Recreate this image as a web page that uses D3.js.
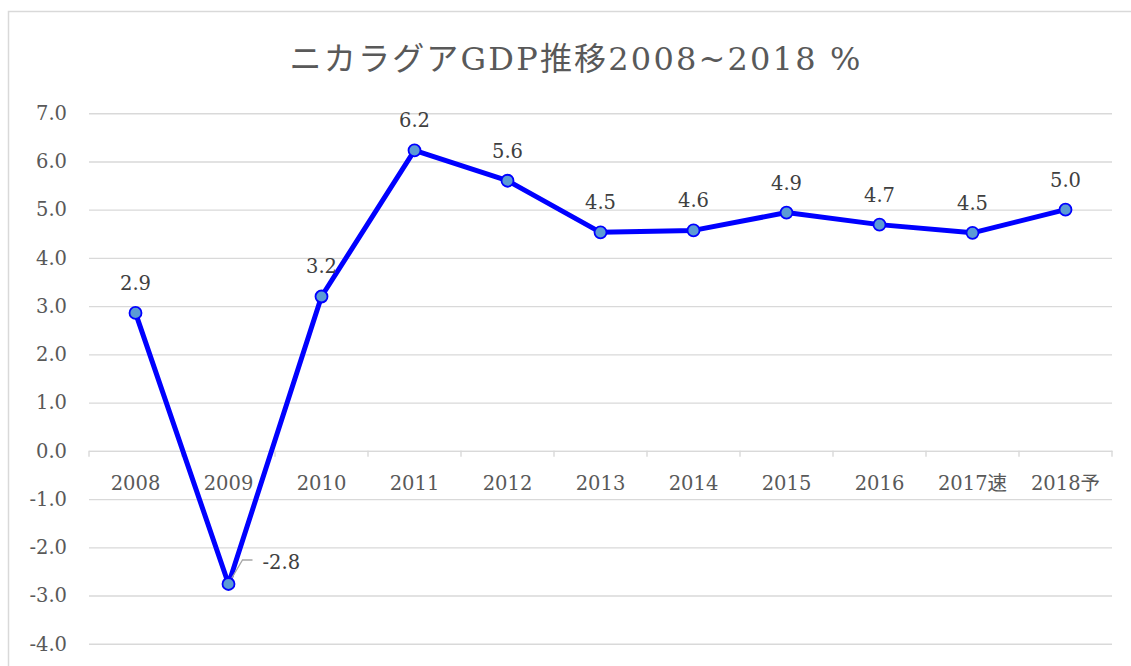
<!DOCTYPE html>
<html>
<head>
<meta charset="utf-8">
<script src="https://cdn.jsdelivr.net/npm/d3@7"></script>
<style>
  html, body { margin: 0; padding: 0; background: #fff; }
  svg { display: block; }
  text { font-family: "DejaVu Serif", "Noto Sans CJK JP", serif; }
</style>
</head>
<body>
<svg id="chart" width="1131" height="666"></svg>
<script>
// ニカラグア GDP 成長率 (%)
const years = ['2008', '2009', '2010', '2011', '2012', '2013', '2014', '2015', '2016', '2017速', '2018予'];
const growth = [2.86, -2.76, 3.2, 6.23, 5.6, 4.53, 4.57, 4.94, 4.69, 4.52, 5.0];
const yTicks = [7, 6, 5, 4, 3, 2, 1, 0, -1, -2, -3, -4];
const title = 'ニカラグアGDP推移2008~2018 %';

const W = 1131, H = 666;
const left = 89, right = 1112;

const svg = d3.select('#chart');

// chart frame
svg.append('rect')
  .attr('x', 8.5).attr('y', 11.5)
  .attr('width', 1140).attr('height', 700)
  .attr('fill', '#fff')
  .attr('stroke', '#d9d9d9')
  .attr('stroke-width', 1.5);

const x = d3.scaleBand().domain(years).range([left, right]);
const y = d3.scaleLinear().domain([-4, 7]).range([643.8, 113.2]);

// title
svg.append('text')
  .attr('x', 575).attr('y', 70)
  .attr('text-anchor', 'middle')
  .attr('font-size', 32)
  .attr('textLength', 571)
  .attr('lengthAdjust', 'spacing')
  .attr('fill', '#595959')
  .text(title);

// gridlines + y labels
const yAxis = d3.axisLeft(y).tickValues(yTicks).tickSize(-(right - left)).tickFormat(d3.format('.1f'));
const gy = svg.append('g').attr('transform', `translate(${left},0)`).call(yAxis);
gy.select('.domain').remove();
gy.selectAll('.tick line').attr('stroke', '#d9d9d9').attr('stroke-width', 1.4);
gy.selectAll('.tick text')
  .attr('x', -22)
  .attr('font-size', 19.5)
  .attr('fill', '#595959')
  .attr('font-family', '"DejaVu Serif", serif')
  .text((d) => d3.format('.1f')(d).replace('−', '-'));

// category axis on zero line
const xAxis = d3.axisBottom(x).tickSize(0).tickPadding(25);
const gx = svg.append('g').attr('transform', `translate(0,${y(0)})`).call(xAxis);
gx.select('.domain').attr('stroke', '#d9d9d9').attr('stroke-width', 1.4);
gx.selectAll('.tick text')
  .attr('font-size', 19.5)
  .attr('fill', '#595959');
// boundary ticks
const bounds = years.map((d) => x(d)).concat([right]);
gx.selectAll('line.bnd')
  .data(bounds)
  .join('line')
  .attr('class', 'bnd')
  .attr('x1', (d) => d).attr('x2', (d) => d)
  .attr('y1', 0).attr('y2', 6)
  .attr('stroke', '#d9d9d9').attr('stroke-width', 1.4);

const cx = (d, i) => x(years[i]) + x.bandwidth() / 2;

// line
const line = d3.line().x((d, i) => cx(d, i)).y((d) => y(d));
svg.append('path')
  .datum(growth)
  .attr('d', line)
  .attr('fill', 'none')
  .attr('stroke', '#0000ff')
  .attr('stroke-width', 5)
  .attr('stroke-linejoin', 'round');

// leader line for negative label
const iNeg = growth.findIndex((v) => v < 0);
svg.append('polyline')
  .attr('points', [
    [cx(0, iNeg) + 1, y(growth[iNeg]) - 2],
    [cx(0, iNeg) + 14, y(growth[iNeg]) - 24],
    [cx(0, iNeg) + 24, y(growth[iNeg]) - 24],
  ].map((p) => p.join(',')).join(' '))
  .attr('fill', 'none')
  .attr('stroke', '#a6a6a6')
  .attr('stroke-width', 1.3);

// markers
svg.selectAll('circle.pt')
  .data(growth)
  .join('circle')
  .attr('class', 'pt')
  .attr('cx', (d, i) => cx(d, i))
  .attr('cy', (d) => y(d))
  .attr('r', 6)
  .attr('fill', '#5b9bd5')
  .attr('stroke', '#0000ff')
  .attr('stroke-width', 1.8);

// data labels
svg.selectAll('text.lbl')
  .data(growth)
  .join('text')
  .attr('class', 'lbl')
  .attr('x', (d, i) => (d < 0 ? cx(d, i) + 34 : cx(d, i)))
  .attr('y', (d) => (d < 0 ? y(d) - 15 : y(d) - 23))
  .attr('text-anchor', (d) => (d < 0 ? 'start' : 'middle'))
  .attr('font-size', 19.5)
  .attr('fill', '#404040')
  .text((d) => d.toFixed(1));
</script>
</body>
</html>
